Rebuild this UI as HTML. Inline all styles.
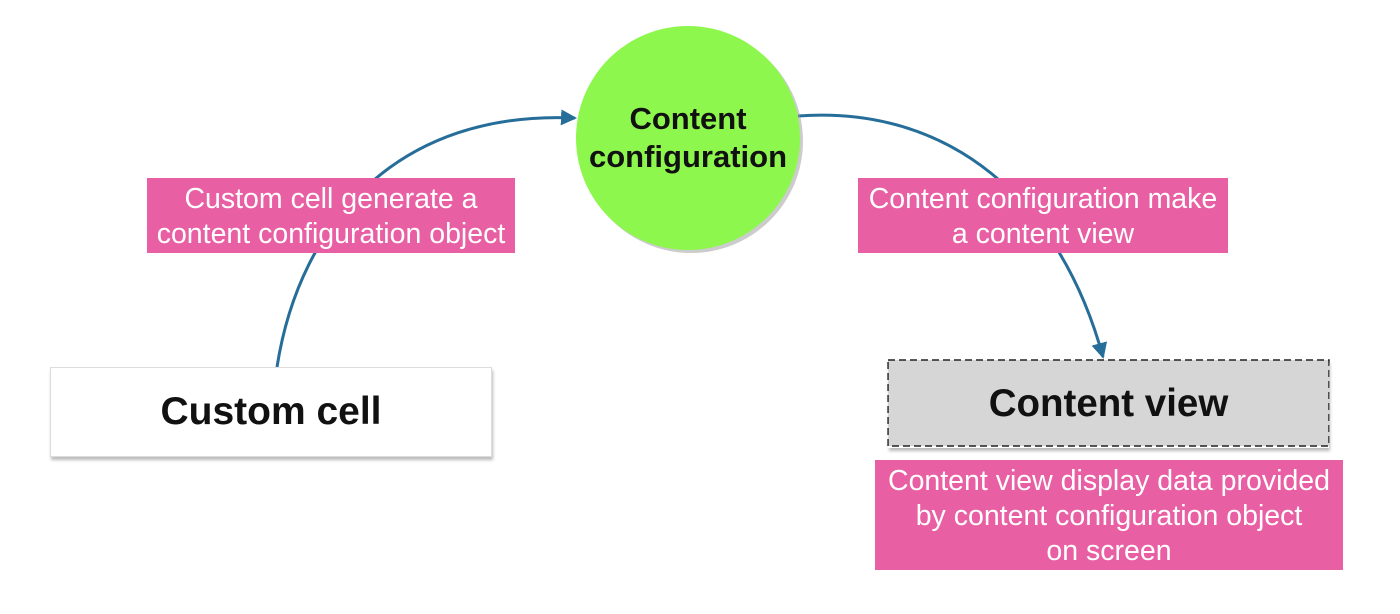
<!DOCTYPE html>
<html><head><style>
body{margin:0;width:1400px;height:614px;background:#fff;position:relative;overflow:hidden;font-family:"Liberation Sans",sans-serif}
.lbl{position:absolute;background:#e85fa4;color:#fff;font-size:28.5px;line-height:35px;text-align:center;white-space:nowrap}
.box{position:absolute;display:flex;align-items:center;justify-content:center;font-weight:bold;color:#111}
</style></head><body>
<svg width="1400" height="614" style="position:absolute;left:0;top:0">
<defs>
<marker id="b" markerWidth="16" markerHeight="16" refX="14" refY="8" orient="auto" markerUnits="userSpaceOnUse"><path d="M0,0 L16,8 L0,16z" fill="#266d9a"/></marker></defs>
<path d="M277,367 C300,220 400,110 575,118" fill="none" stroke="#266d9a" stroke-width="3" marker-end="url(#b)"/>
<path d="M798,116 C950,105 1060,200 1103,357" fill="none" stroke="#266d9a" stroke-width="3" marker-end="url(#b)"/>
<circle cx="691" cy="141" r="112" fill="#999" opacity="0.5"/>
<circle cx="688" cy="138" r="112" fill="#8ef74e"/>
<text x="688" y="129" text-anchor="middle" font-size="31" font-weight="bold" fill="#111" font-family="Liberation Sans,sans-serif">Content</text>
<text x="688" y="167" text-anchor="middle" font-size="31" font-weight="bold" fill="#111" font-family="Liberation Sans,sans-serif">configuration</text>
<rect x="888" y="360" width="441" height="86" fill="#d6d6d6" stroke="#222" stroke-width="1.5" stroke-dasharray="7,4"/>
</svg>
<div class="box" style="left:50px;top:367px;width:440px;height:88px;background:#fff;box-shadow:1px 3px 3px #bbb;border:1px solid #ddd;font-size:39px">Custom cell</div>
<div class="box" style="left:888px;top:360px;width:441px;height:88px;font-size:38.5px;box-shadow:1px 3px 3px #bbb">Content view</div>
<div class="lbl" style="left:147px;top:178px;width:368px;height:75px;padding-top:4px;box-sizing:border-box">Custom cell generate a<br>content configuration object</div>
<div class="lbl" style="left:858px;top:178px;width:370px;height:75px;padding-top:4px;box-sizing:border-box">Content configuration make<br>a content view</div>
<div class="lbl" style="left:875px;top:460px;width:468px;height:110px;padding-top:4px;box-sizing:border-box">Content view display data provided<br>by content configuration object<br>on screen</div>
</body></html>
